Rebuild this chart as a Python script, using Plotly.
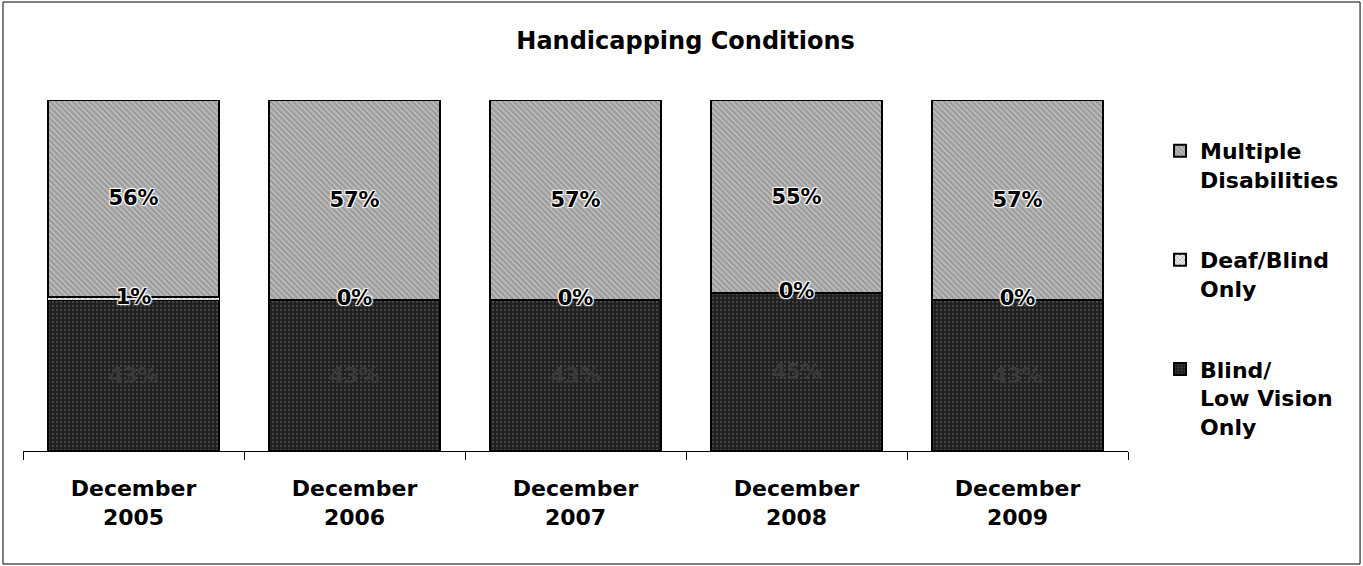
import plotly.graph_objects as go

categories = ["December<br>2005", "December<br>2006", "December<br>2007", "December<br>2008", "December<br>2009"]
blind_low_vision = [43, 43, 43, 45, 43]
deaf_blind = [1, 0, 0, 0, 0]
multiple = [56, 57, 57, 55, 57]

FONT = "DejaVu Sans, Arial, sans-serif"
HALO = "1px 1px 1px white, -1px -1px 1px white, 1px -1px 1px white, -1px 1px 1px white"

fig = go.Figure()
fig.add_trace(go.Bar(
    x=categories, y=blind_low_vision, name="Blind/<br>Low Vision<br>Only", legendgroup="c", legendrank=3,
    text=[f"{v}%" for v in blind_low_vision], textposition="inside", insidetextanchor="middle",
    textfont=dict(family=FONT, size=21, color="#3a3a3a", weight="bold"),
    marker=dict(color="#1f1f1f", line=dict(color="black", width=2),
                pattern=dict(shape=".", fgcolor="#707070", size=4, solidity=0.25)),
))
fig.add_trace(go.Bar(
    x=categories, y=deaf_blind, name="Deaf/Blind<br>Only", legendgroup="b", legendrank=2,
    marker=dict(color="#f0f0f0", line=dict(color="black", width=1),
                pattern=dict(shape="x", fgcolor="#444444", size=4, solidity=0.35)),
))
fig.add_trace(go.Bar(
    x=categories, y=multiple, name="Multiple<br>Disabilities", legendgroup="a", legendrank=1,
    text=[f"{v}%" for v in multiple], textposition="inside", insidetextanchor="middle",
    textfont=dict(family=FONT, size=21, color="black", weight="bold", shadow=HALO),
    marker=dict(color="#9c9c9c", line=dict(color="black", width=2),
                pattern=dict(shape="\\", fgcolor="#eeeeee", size=4, solidity=0.35)),
))
# labels for the thin Deaf/Blind segment, positioned at its stacked midpoint
fig.add_trace(go.Scatter(
    x=categories, y=[b + d / 2 for b, d in zip(blind_low_vision, deaf_blind)],
    mode="text", text=[f"{v}%" for v in deaf_blind], showlegend=False, hoverinfo="skip",
    textfont=dict(family=FONT, size=21, color="black", weight="bold", shadow=HALO),
))

fig.update_layout(
    width=1363, height=566,
    margin=dict(l=23, r=235, t=100, b=115),
    paper_bgcolor="white", plot_bgcolor="white",
    barmode="stack", bargap=0.222,
    title=dict(text="<b>Handicapping Conditions</b>", x=0.503, xanchor="center", xref="container",
               y=0.9276, yref="container", yanchor="middle",
               font=dict(family=FONT, size=24, color="black")),
    legend=dict(traceorder="grouped", x=1.029, xanchor="left", y=0.915, yanchor="top",
                valign="top",
                font=dict(family=FONT, size=22, color="black", weight="bold"),
                itemsizing="constant", tracegroupgap=49, bgcolor="rgba(0,0,0,0)"),
    font=dict(family=FONT, color="black"),
    showlegend=True,
)
fig.update_xaxes(showline=True, linecolor="black", linewidth=1, ticks="outside", tickson="boundaries",
                 ticklen=8, tickcolor="black", ticklabelstandoff=18,
                 tickfont=dict(family=FONT, size=22, color="black", weight="bold"))
fig.update_yaxes(visible=False, range=[0, 100], showgrid=False)

fig.add_shape(type="rect", xref="paper", yref="paper",
              x0=-0.0181, x1=1.2100, y0=-0.3219, y1=1.2792,
              line=dict(color="black", width=1), fillcolor="rgba(0,0,0,0)", layer="below")

fig.write_html("out.html", config={"displayModeBar": False},
               post_script="document.body.style.margin='0';")
